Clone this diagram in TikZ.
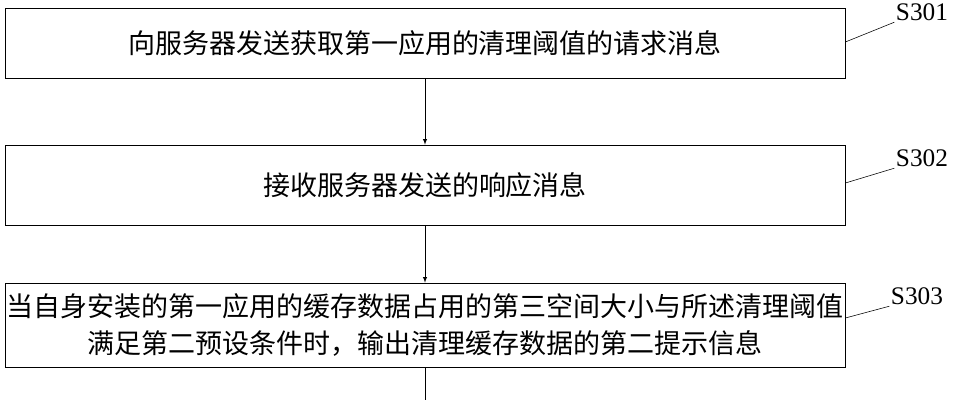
\documentclass[tikz,border=0pt]{standalone}
\usepackage{fontspec}
\setmainfont{Liberation Serif}
\newfontfamily\cjk{Noto Sans CJK SC}
\begin{document}
\begin{tikzpicture}[x=0.025cm,y=-0.025cm,
    stepbox/.style={draw, minimum width=21cm, align=center, inner sep=0pt, font=\cjk\fontsize{19.2}{27}\selectfont},
    steplabel/.style={font=\fontsize{18}{20}\selectfont, inner sep=1pt}]
        \useasboundingbox (0, 0) rectangle (954, 400);

        \node[stepbox, minimum height=1.75cm] (s1) at (425, 43) {向服务器发送获取第一应用的清理阈值的请求消息};
        \node[stepbox, minimum height=2cm] (s2) at (425, 185) {接收服务器发送的响应消息};
        \node[stepbox, minimum height=2.1cm] (s3) at (425, 325) {当自身安装的第一应用的缓存数据占用的第三空间大小与所述清理阈值\\满足第二预设条件时，输出清理缓存数据的第二提示信息};
        \coordinate (end) at (425, 400);

        \node[steplabel] (l1) at (922, 12) {S301};
        \node[steplabel] (l2) at (922, 158) {S302};
        \node[steplabel] (l3) at (917, 296) {S303};

        \draw[-latex] (s1) -- (s2);
        \draw[-latex] (s2) -- (s3);
        \draw (s3) -- (end);

        \draw (s1.east |- 0, 42) -- (l1.south west);
        \draw (s2.east |- 0, 183) -- (l2.south west);
        \draw (s3.east |- 0, 318) -- (l3.south west);

    \end{tikzpicture}
\end{document}
